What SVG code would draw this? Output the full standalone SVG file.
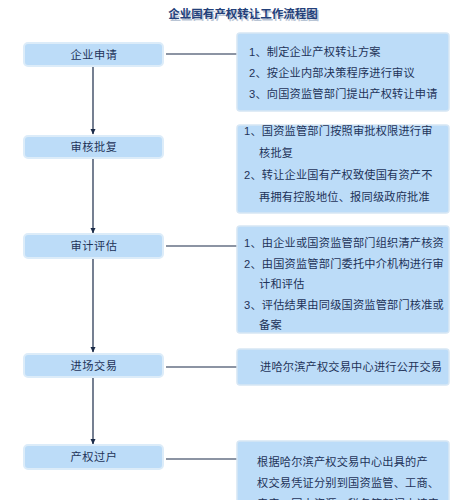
<svg xmlns="http://www.w3.org/2000/svg" width="468" height="500" viewBox="0 0 468 500">
<defs>
<style>
text{font-family:"Liberation Sans","Noto Sans CJK SC",sans-serif;fill:#1e3358;dominant-baseline:central}
.title{font-size:11.5px;font-weight:bold;fill:#23407a}
.tshadow{font-size:11.5px;font-weight:bold;fill:#b8c4d4}
.lb{fill:#bcdcf8;stroke:#dcecf9;stroke-width:2}
.rb{fill:#bcdcf8;stroke:#d6e6f4;stroke-width:1.5}
.sh{fill:#eef2f6}
.lt{font-size:11.2px;text-anchor:middle;letter-spacing:0.6px}
.rt{font-size:11.2px;letter-spacing:0.2px}
.con{stroke:#1a2a48;stroke-width:1.2;fill:none}
</style>
<marker id="ah" markerWidth="6" markerHeight="6" refX="5" refY="3" orient="auto" markerUnits="userSpaceOnUse">
<path d="M0,0.5 L5.5,3 L0,5.5 Z" fill="#1a2a48"/>
</marker>
</defs>
<rect width="468" height="500" fill="#ffffff"/>
<g id="title">
<text class="tshadow" x="244.5" y="15.5" text-anchor="middle">企业国有产权转让工作流程图</text>
<text class="title" x="243" y="14" text-anchor="middle">企业国有产权转让工作流程图</text>
</g>
<g id="connectors">
<line class="con" x1="93" y1="67" x2="93" y2="134" marker-end="url(#ah)"/>
<line class="con" x1="93" y1="159" x2="93" y2="233" marker-end="url(#ah)"/>
<line class="con" x1="93" y1="259" x2="93" y2="352" marker-end="url(#ah)"/>
<line class="con" x1="93" y1="378" x2="93" y2="444" marker-end="url(#ah)"/>
<line class="con" x1="166" y1="54" x2="237" y2="54"/>
<line class="con" x1="166" y1="246" x2="237" y2="246"/>
<line class="con" x1="166" y1="367" x2="237" y2="367"/>
<line class="con" x1="166" y1="459" x2="237" y2="459"/>
</g>
<g id="n1">
<rect class="lb" x="24" y="43" width="139" height="23" rx="4"/>
<text class="lt" x="94" y="55">企业申请</text>
</g>
<g id="n2">
<rect class="lb" x="24" y="136" width="139" height="22" rx="4"/>
<text class="lt" x="94" y="147">审核批复</text>
</g>
<g id="n3">
<rect class="lb" x="24" y="234" width="139" height="24" rx="4"/>
<text class="lt" x="94" y="246">审计评估</text>
</g>
<g id="n4">
<rect class="lb" x="24" y="354" width="139" height="23" rx="4"/>
<text class="lt" x="94" y="366">进场交易</text>
</g>
<g id="n5">
<rect class="lb" x="24" y="445" width="139" height="24" rx="4"/>
<text class="lt" x="94" y="457">产权过户</text>
</g>
<g id="r1">
<rect class="rb" x="237" y="33" width="212" height="78" rx="3"/>
<text class="rt" x="249" y="52">1、制定企业产权转让方案</text>
<text class="rt" x="249" y="73">2、按企业内部决策程序进行审议</text>
<text class="rt" x="249" y="94">3、向国资监管部门提出产权转让申请</text>
</g>
<g id="r2">
<rect class="rb" x="237" y="125" width="212" height="88" rx="3"/>
<text class="rt" x="244" y="131">1、国资监管部门按照审批权限进行审</text>
<text class="rt" x="259" y="153">核批复</text>
<text class="rt" x="244" y="175">2、转让企业国有产权致使国有资产不</text>
<text class="rt" x="259" y="197">再拥有控股地位、报同级政府批准</text>
</g>
<g id="r3">
<rect class="rb" x="237" y="226" width="212" height="107" rx="3"/>
<text class="rt" x="244" y="243">1、由企业或国资监管部门组织清产核资</text>
<text class="rt" x="244" y="263.5">2、由国资监管部门委托中介机构进行审</text>
<text class="rt" x="259" y="284">计和评估</text>
<text class="rt" x="244" y="304.5">3、评估结果由同级国资监管部门核准或</text>
<text class="rt" x="259" y="325">备案</text>
</g>
<g id="r4">
<rect class="rb" x="237" y="349" width="212" height="36" rx="3"/>
<text class="rt" x="260" y="367">进哈尔滨产权交易中心进行公开交易</text>
</g>
<g id="r5">
<rect class="rb" x="237" y="441" width="212" height="80" rx="3"/>
<text class="rt" x="257" y="462">根据哈尔滨产权交易中心出具的产</text>
<text class="rt" x="257" y="483">权交易凭证分别到国资监管、工商、</text>
<text class="rt" x="257" y="504">房产、国土资源、税务等部门申请产</text>
</g>
</svg>
